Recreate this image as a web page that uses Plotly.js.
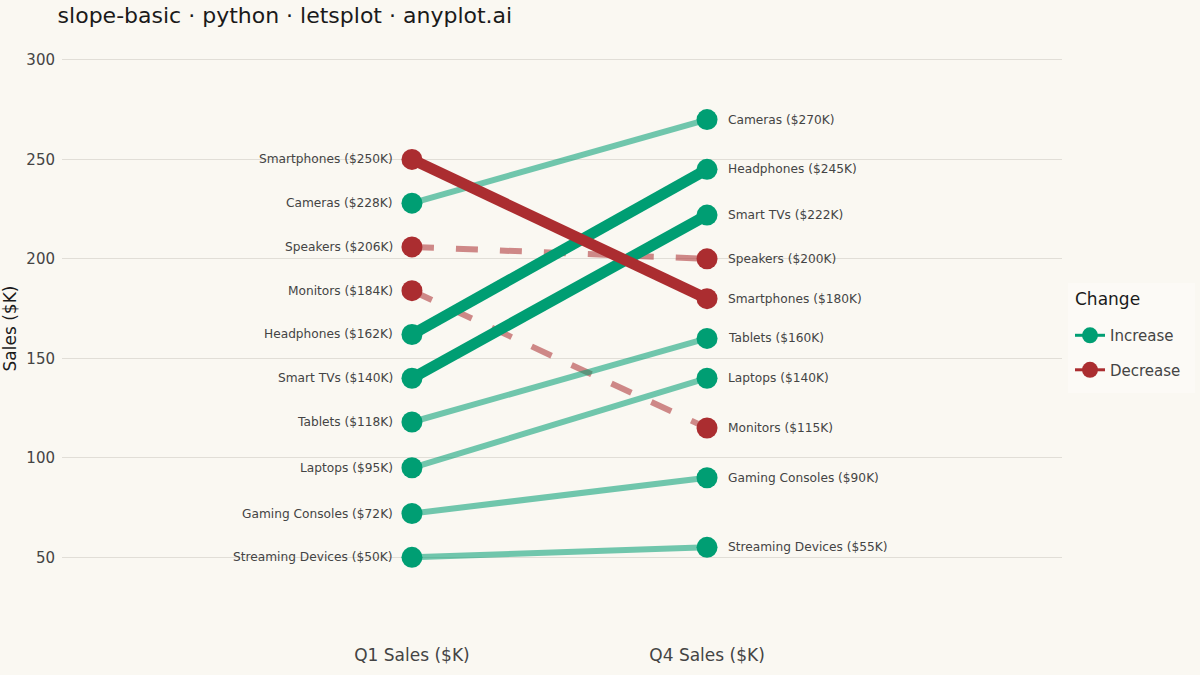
<!DOCTYPE html>
<html>
<head>
<meta charset="utf-8">
<script src="https://cdn.plot.ly/plotly-3.0.1.min.js"></script>
<style>
  html, body { margin: 0; padding: 0; background: #FAF8F2; }
  #myDiv { width: 1200px; height: 675px; }
</style>
</head>
<body>
<div id="myDiv"></div>
<script>
// products and their sales in $K
var products = ['Smartphones', 'Cameras', 'Speakers', 'Monitors', 'Headphones',
                'Smart TVs', 'Tablets', 'Laptops', 'Gaming Consoles', 'Streaming Devices'];
var q1Sales = [250, 228, 206, 184, 162, 140, 118, 95, 72, 50];
var q4Sales = [180, 270, 200, 115, 245, 222, 160, 140, 90, 55];
var periodLabels = ['Q1 Sales ($K)', 'Q4 Sales ($K)'];

var GREEN = '#009E73';
var RED = '#AB2D30';
var FONT = 'DejaVu Sans, Liberation Sans, sans-serif';

// biggest three moves get the bold line, the rest are faded
var absChange = products.map(function (p, i) { return Math.abs(q4Sales[i] - q1Sales[i]); });
var cutoff = absChange.slice().sort(function (a, b) { return b - a; })[2];

var faded = [], bold = [], markers = [];
products.forEach(function (p, i) {
  var up = q4Sales[i] >= q1Sales[i];
  var big = absChange[i] >= cutoff;
  var tr = {
    x: [0, 1],
    y: [q1Sales[i], q4Sales[i]],
    mode: 'lines',
    type: 'scatter',
    showlegend: false,
    hoverinfo: 'skip',
    line: {
      color: up ? GREEN : RED,
      width: big ? 11 : 6,
      dash: (!up && !big) ? '22px,22px' : 'solid'
    },
    opacity: big ? 1 : 0.55
  };
  if (big) {
    // red drawn last so it sits on top
    if (up) bold.unshift(tr); else bold.push(tr);
  } else {
    faded.push(tr);
  }
  markers.push({
    x: [0, 1],
    y: [q1Sales[i], q4Sales[i]],
    mode: 'markers',
    type: 'scatter',
    showlegend: false,
    hovertext: [p + ' ($' + q1Sales[i] + 'K)', p + ' ($' + q4Sales[i] + 'K)'],
    hoverinfo: 'text',
    marker: { color: up ? GREEN : RED, size: 21 }
  });
});

// legend-only entries
var legendTraces = [
  { name: 'Increase', color: GREEN },
  { name: 'Decrease', color: RED }
].map(function (d) {
  return {
    x: [null], y: [null],
    mode: 'lines+markers',
    type: 'scatter',
    name: d.name,
    legendgroup: d.name,
    line: { color: d.color, width: 3 },
    marker: { color: d.color, size: 18 }
  };
});

// point labels
var annotations = [];
products.forEach(function (p, i) {
  annotations.push({
    x: 0, y: q1Sales[i], xref: 'x', yref: 'y',
    text: p + ' ($' + q1Sales[i] + 'K)',
    showarrow: false, xanchor: 'right', xshift: -17,
    font: { family: FONT, size: 12.2, color: '#444444' }
  });
  annotations.push({
    x: 1, y: q4Sales[i], xref: 'x', yref: 'y',
    text: p + ' ($' + q4Sales[i] + 'K)',
    showarrow: false, xanchor: 'left', xshift: 19,
    font: { family: FONT, size: 12.2, color: '#444444' }
  });
});

// legend title drawn by hand so the spacing matches
annotations.push({
  x: 1.011, y: 0.551, xref: 'paper', yref: 'paper',
  text: 'Change', showarrow: false, xanchor: 'left', yanchor: 'middle',
  font: { family: FONT, size: 17, color: '#1a1a1a' }
});

var data = faded.concat(bold).concat(markers).concat(legendTraces);

var layout = {
  width: 1200,
  height: 675,
  paper_bgcolor: '#FAF8F2',
  plot_bgcolor: '#FAF8F2',
  font: { family: FONT, color: '#444444' },
  margin: { l: 62, r: 138, t: 40, b: 58 },
  title: {
    text: 'slope-basic · python · letsplot · anyplot.ai',
    font: { family: FONT, size: 22, color: '#1a1a1a' },
    x: 0.048, xref: 'container', xanchor: 'left',
    y: 0.977, yanchor: 'middle'
  },
  xaxis: {
    range: [-1.186, 2.203],
    tickvals: [0, 1],
    ticktext: periodLabels,
    showgrid: false,
    zeroline: false,
    showline: false,
    ticks: '',
    ticklabelstandoff: 26,
    tickfont: { family: FONT, size: 17, color: '#444444' }
  },
  yaxis: {
    range: [20, 310],
    tickvals: [50, 100, 150, 200, 250, 300],
    showgrid: true,
    gridcolor: '#E1DED7',
    gridwidth: 1,
    zeroline: false,
    showline: false,
    ticks: '',
    ticklabelstandoff: 6,
    tickfont: { family: FONT, size: 15, color: '#444444' },
    title: {
      text: 'Sales ($K)',
      font: { family: FONT, size: 17, color: '#1a1a1a' },
      standoff: 8
    }
  },
  showlegend: true,
  legend: {
    x: 1.008, xanchor: 'left',
    y: 0.5164, yanchor: 'top',
    bgcolor: 'rgba(0,0,0,0)',
    borderwidth: 0,
    font: { family: FONT, size: 15, color: '#444444' },
    tracegroupgap: 12
  },
  shapes: [{
    type: 'rect', xref: 'paper', yref: 'paper', layer: 'below',
    x0: 1.006, x1: 1.133, y0: 0.388, y1: 0.579,
    fillcolor: '#FCFAF6', line: { width: 0 }
  }],
  annotations: annotations
};

Plotly.newPlot('myDiv', data, layout, { displayModeBar: false });
</script>
</body>
</html>
